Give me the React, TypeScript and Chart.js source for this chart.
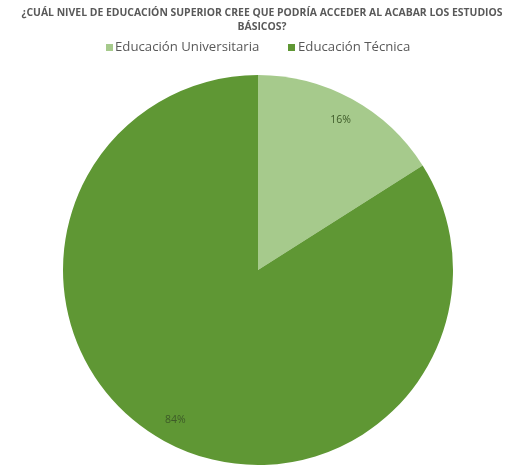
import React, { useEffect, useRef } from "react";
import { Chart, registerables } from "chart.js";

Chart.register(...registerables);

const titleLines = [
  "¿CUÁL NIVEL DE EDUCACIÓN SUPERIOR CREE QUE PODRÍA ACCEDER AL ACABAR LOS ESTUDIOS",
  "BÁSICOS?",
];
const categories = ["Educación Universitaria", "Educación Técnica"];
const values = [16, 84];
const colors = ["#a6ca8c", "#5f9734"];

const headerPlugin = {
  id: "header",
  afterDraw(chart: any) {
    const ctx = chart.ctx;
    ctx.save();
    ctx.fillStyle = "#595959";
    ctx.textAlign = "center";
    ctx.textBaseline = "middle";
    ctx.font = "bold 10.4px 'Open Sans', sans-serif";
    ctx.fillText(titleLines[0], 262, 13);
    ctx.fillText(titleLines[1], 262, 27);
    ctx.font = "13.2px 'Open Sans', sans-serif";
    ctx.textAlign = "left";
    const items = [
      { box: 106, text: 115 },
      { box: 288, text: 298 },
    ];
    categories.forEach((c, i) => {
      ctx.fillStyle = colors[i];
      ctx.fillRect(items[i].box, 44, 7, 7);
      ctx.fillStyle = "#595959";
      ctx.fillText(c, items[i].text, 47.5);
    });
    ctx.restore();
  },
};

const labelPlugin = {
  id: "sliceLabels",
  afterDatasetsDraw(chart: any) {
    const ctx = chart.ctx;
    const meta = chart.getDatasetMeta(0);
    const total = values.reduce((a, b) => a + b, 0);
    ctx.save();
    ctx.font = "10.5px 'Open Sans', sans-serif";
    ctx.fillStyle = "#3d5a28";
    ctx.textAlign = "center";
    ctx.textBaseline = "middle";
    meta.data.forEach((arc: any, i: number) => {
      const { x, y, startAngle, endAngle, outerRadius } = arc.getProps(
        ["x", "y", "startAngle", "endAngle", "outerRadius"],
        true
      );
      const mid = (startAngle + endAngle) / 2;
      const r = outerRadius * 0.88;
      const pct = Math.round((values[i] / total) * 100) + "%";
      ctx.fillText(pct, x + Math.cos(mid) * r, y + Math.sin(mid) * r);
    });
    ctx.restore();
  },
};

export default function App() {
  const ref = useRef<HTMLCanvasElement>(null);
  useEffect(() => {
    document.body.style.margin = "0";
    const chart = new Chart(ref.current!, {
      type: "pie",
      data: {
        labels: categories,
        datasets: [
          {
            data: values,
            backgroundColor: colors,
            borderWidth: 0,
          },
        ],
      },
      options: {
        responsive: false,
        animation: false,
        layout: { padding: { left: 0, right: 7, top: 75, bottom: 3 } },
        plugins: {
          title: { display: false },
          legend: { display: false },
          tooltip: { enabled: false },
        },
      },
      plugins: [labelPlugin, headerPlugin],
    });
    return () => chart.destroy();
  }, []);
  return (
    <div style={{ position: "absolute", left: 0, top: 0, width: 523, height: 468 }}>
      <canvas ref={ref} width={523} height={468} style={{ width: 523, height: 468 }} />
    </div>
  );
}
